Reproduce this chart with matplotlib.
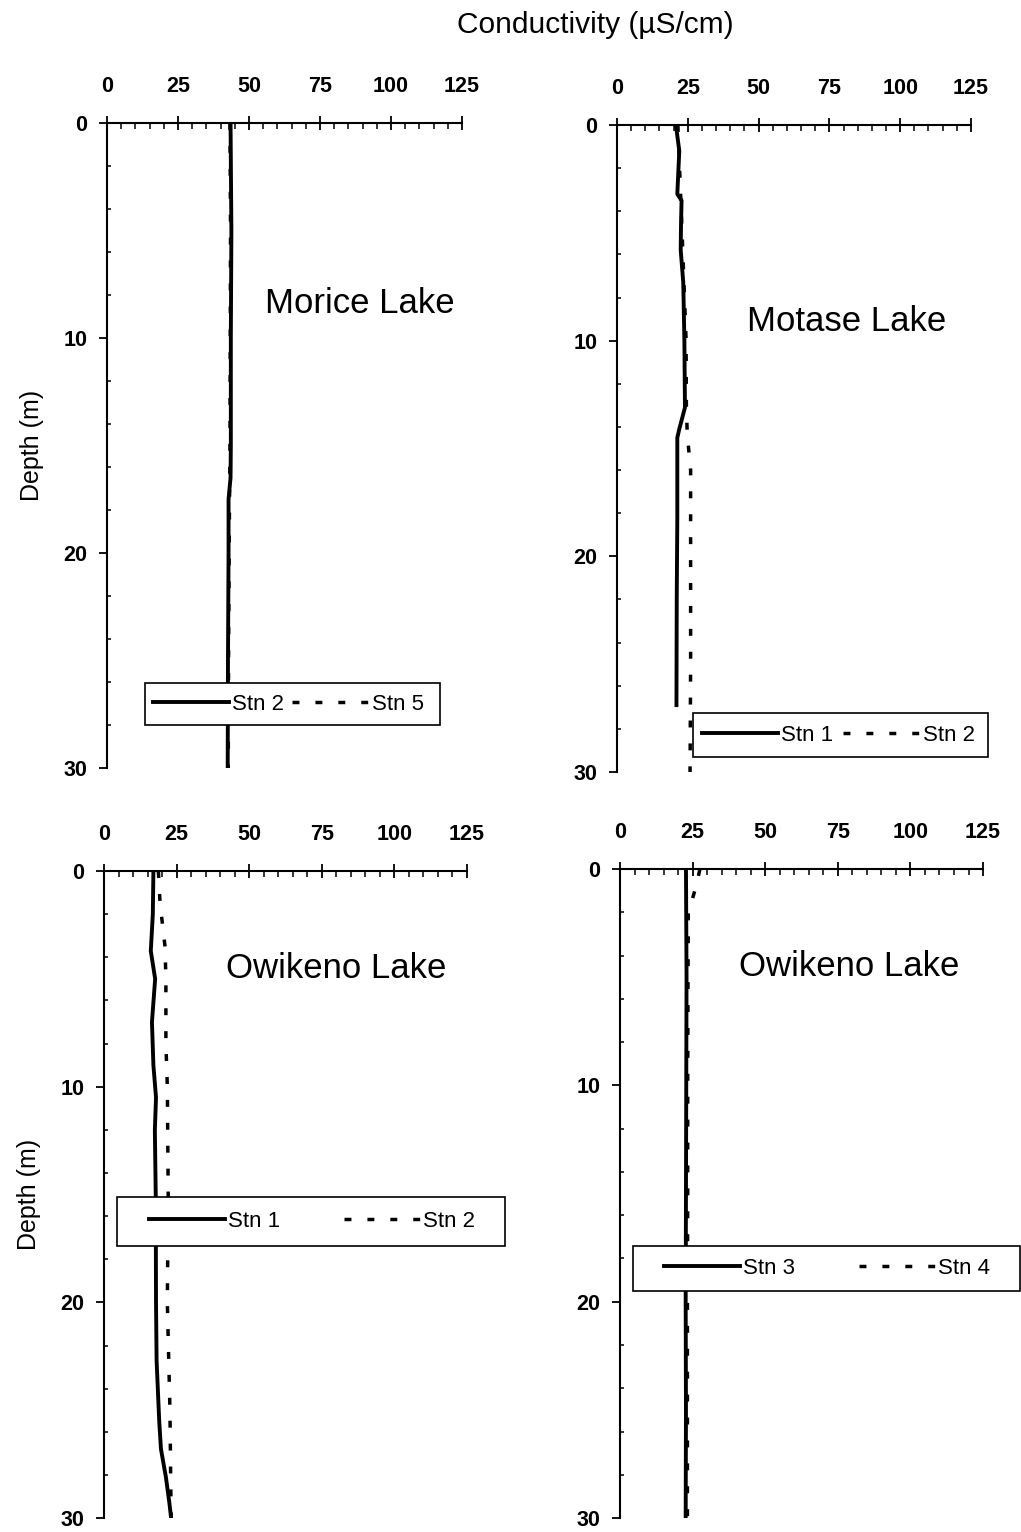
import numpy as np
import matplotlib
matplotlib.use('Agg')
import matplotlib.pyplot as plt
from matplotlib.ticker import MultipleLocator
from matplotlib.patches import Rectangle

plt.rcParams['font.family'] = ['Liberation Sans', 'DejaVu Sans']

# Morice Lake
morice_stn2_depth = [0, 5, 10, 15, 16.5, 17.5, 20, 25, 30]
morice_stn2_cond = [43.5, 43.8, 43.6, 43.6, 43.5, 42.8, 42.8, 42.6, 42.5]
morice_stn5_depth = [0, 5, 10, 15, 20, 25, 30]
morice_stn5_cond = [43.3, 43.5, 43.4, 43.3, 43.0, 42.8, 42.7]

# Motase Lake
motase_stn1_depth = [0, 1.2, 3.2, 3.5, 4.7, 5.8, 7.3, 10, 13.1, 14.1, 14.5, 18.2, 22, 26.9]
motase_stn1_cond = [20.8, 22.0, 21.3, 22.8, 22.6, 22.5, 23.4, 23.8, 24.0, 22.0, 21.3, 21.3, 21.1, 21.0]
motase_stn2_depth = [0, 5, 10, 13, 14.3, 16, 20, 25, 30]
motase_stn2_cond = [21.5, 23.0, 24.4, 24.5, 24.8, 26.0, 26.0, 26.0, 25.8]

# Owikeno Lake, stations 1 and 2
owik_stn1_depth = [0, 2, 3.7, 5, 7, 9, 10.5, 12, 15, 20, 22.7, 25.5, 26.8, 28.1, 29.3, 30]
owik_stn1_cond = [17.0, 16.8, 16.1, 17.6, 16.5, 17.0, 17.9, 17.5, 17.8, 17.9, 18.1, 19.0, 19.6, 21.3, 22.5, 23.1]
owik_stn2_depth = [0, 1.5, 3.5, 5, 8, 10, 15, 20, 25, 30]
owik_stn2_cond = [18.7, 19.3, 21.0, 21.3, 21.3, 21.8, 22.1, 21.8, 22.7, 23.1]

# Owikeno Lake, stations 3 and 4
owik_stn3_depth = [0, 5, 10, 15, 20, 25, 30]
owik_stn3_cond = [22.7, 22.9, 22.8, 22.7, 22.6, 22.7, 22.6]
owik_stn4_depth = [0, 0.8, 2, 5, 10, 15, 20, 25, 30]
owik_stn4_cond = [27.5, 26.2, 23.5, 23.4, 23.3, 23.3, 23.2, 23.2, 23.2]

x_ticks = [0, 25, 50, 75, 100, 125]
y_ticks = [0, 10, 20, 30]

# rect: axes box in figure fraction; box: legend frame (axes fraction);
# anchor: left/centre of legend contents; colsp: gap between the two entries
panels = [
    dict(rect=[0.1048, 0.4987, 0.3477, 0.4210], title='Morice Lake', tpos=(89, 8.4),
         series=[(morice_stn2_cond, morice_stn2_depth), (morice_stn5_cond, morice_stn5_depth)],
         labels=['Stn 2', 'Stn 5'], box=(0.107, 0.067, 0.831, 0.065),
         anchor=(0.130, 0.099), colsp=0.35, ylabel=True),
    dict(rect=[0.6043, 0.4961, 0.3467, 0.4223], title='Motase Lake', tpos=(81, 9.1),
         series=[(motase_stn1_cond, motase_stn1_depth), (motase_stn2_cond, motase_stn2_depth)],
         labels=['Stn 1', 'Stn 2'], box=(0.215, 0.023, 0.833, 0.068),
         anchor=(0.240, 0.057), colsp=0.45, ylabel=False),
    dict(rect=[0.1019, 0.0091, 0.3555, 0.4223], title='Owikeno Lake', tpos=(80, 4.5),
         series=[(owik_stn1_cond, owik_stn1_depth), (owik_stn2_cond, owik_stn2_depth)],
         labels=['Stn 1', 'Stn 2'], box=(0.036, 0.420, 1.069, 0.077),
         anchor=(0.124, 0.459), colsp=2.85, ylabel=True),
    dict(rect=[0.6073, 0.0091, 0.3555, 0.4236], title='Owikeno Lake', tpos=(79, 4.5),
         series=[(owik_stn3_cond, owik_stn3_depth), (owik_stn4_cond, owik_stn4_depth)],
         labels=['Stn 3', 'Stn 4'], box=(0.036, 0.350, 1.066, 0.069),
         anchor=(0.121, 0.385), colsp=2.85, ylabel=False),
]

fig = plt.figure(figsize=(10.21, 15.32), dpi=100)

for p in panels:
    ax = fig.add_axes(p['rect'])
    (x1, y1), (x2, y2) = p['series']
    ax.plot(x1, y1, color='black', lw=2.8, label=p['labels'][0])
    ax.plot(x2, y2, color='black', lw=2.5, dashes=(2.0, 4.6), label=p['labels'][1])

    ax.set_xlim(0, 125)
    ax.set_ylim(30, 0)
    ax.xaxis.tick_top()
    ax.set_xticks(x_ticks)
    ax.set_yticks(y_ticks)
    ax.xaxis.set_minor_locator(MultipleLocator(5))
    ax.yaxis.set_minor_locator(MultipleLocator(2))
    ax.spines['right'].set_visible(False)
    ax.spines['bottom'].set_visible(False)
    ax.spines['left'].set_linewidth(1.5)
    ax.spines['top'].set_linewidth(1.5)
    ax.tick_params(axis='x', which='major', direction='inout', length=10, width=1.3, pad=14,
                   labelsize=15.5)
    ax.tick_params(axis='x', which='minor', direction='in', length=4, width=1.1)
    ax.tick_params(axis='y', which='major', direction='out', length=6, width=1.3, pad=8,
                   labelsize=15.5)
    ax.tick_params(axis='y', which='minor', direction='in', length=3, width=1.1)
    for lab in ax.get_xticklabels() + ax.get_yticklabels():
        lab.set_fontweight('bold')

    ax.text(p['tpos'][0], p['tpos'][1], p['title'], fontsize=25, ha='center', va='center')

    if p['ylabel']:
        ax.set_ylabel('Depth (m)', fontsize=18, labelpad=14)

    bx, by, bw, bh = p['box']
    ax.add_patch(Rectangle((bx, by), bw, bh, transform=ax.transAxes, facecolor='white',
                           edgecolor='black', lw=1.2, clip_on=False, zorder=4))
    leg = ax.legend(loc='center left', bbox_to_anchor=p['anchor'], ncol=2, frameon=False,
                    fontsize=16, handlelength=3.42, handletextpad=0.15,
                    columnspacing=p['colsp'], borderaxespad=0, borderpad=0)
    leg.set_zorder(5)

fig.text(0.583, 0.984, 'Conductivity (µS/cm)', fontsize=21.5, ha='center', va='center')

fig.savefig('out.png', dpi=100)
